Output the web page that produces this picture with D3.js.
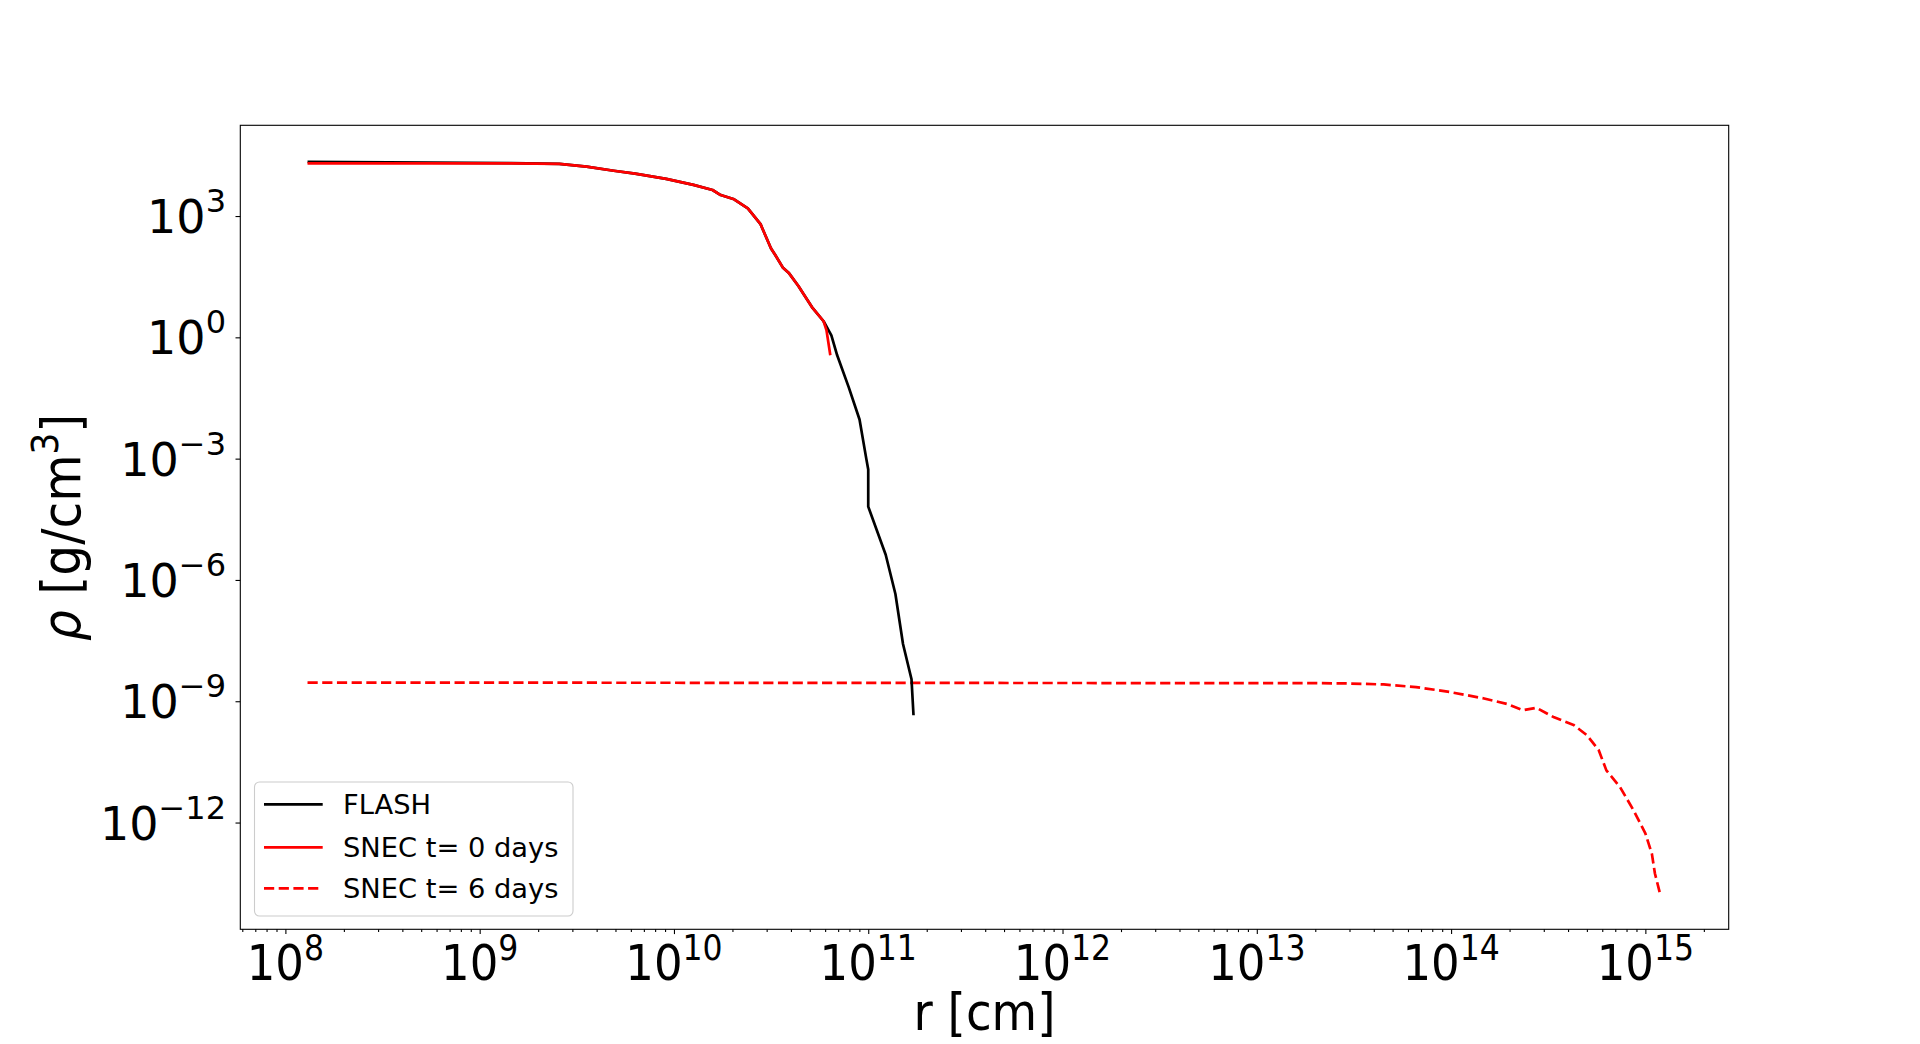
<!DOCTYPE html>
<html><head><meta charset="utf-8">
<script src="https://cdn.jsdelivr.net/npm/d3@7"></script>
<style>body{margin:0;background:#fff} svg{display:block}</style>
</head><body>
<svg id="c" width="1920" height="1044"></svg>
<script>
// ---- data ----
const rFlash   = [1.30e8, 1.45e9, 2.57e9, 3.55e9, 4.90e9, 6.31e9, 9.12e9, 1.26e10, 1.58e10, 1.74e10, 2.04e10, 2.40e10, 2.79e10, 3.16e10, 3.31e10, 3.63e10, 3.89e10, 4.37e10, 4.68e10, 5.13e10, 5.89e10, 6.46e10, 6.92e10, 7.94e10, 9.02e10, 9.77e10, 1.00e11, 1.00e11, 1.23e11, 1.38e11, 1.51e11, 1.67e11, 1.71e11];
const rhoFlash = [2.19e4, 2.04e4, 1.95e4, 1.66e4, 1.32e4, 1.12e4, 8.3e3, 5.9e3, 4.4e3, 3.3e3, 2.6e3, 1.55e3, 6.3e2, 1.58e2, 1.12e2, 53.7, 39.8, 18.6, 11.2, 5.6, 2.5, 1.12, 0.36, 0.058, 9.3e-3, 1.0e-3, 5.4e-4, 6.5e-5, 4.2e-6, 4.5e-7, 2.6e-8, 3.5e-9, 4.5e-10];
const rSnec0   = [1.30e8, 1.45e9, 2.57e9, 3.55e9, 4.90e9, 6.31e9, 9.12e9, 1.26e10, 1.58e10, 1.74e10, 2.04e10, 2.40e10, 2.79e10, 3.16e10, 3.31e10, 3.63e10, 3.89e10, 4.37e10, 4.68e10, 5.13e10, 5.89e10, 6.10e10, 6.38e10];
const rhoSnec0 = [2.0e4, 2.0e4, 1.95e4, 1.66e4, 1.32e4, 1.12e4, 8.3e3, 5.9e3, 4.4e3, 3.3e3, 2.6e3, 1.55e3, 6.3e2, 1.58e2, 1.12e2, 53.7, 39.8, 18.6, 11.2, 5.6, 2.5, 1.48, 0.36];
const rSnec6   = [1.30e8, 2.0e13, 3.0e13, 4.5e13, 6.6e13, 9.8e13, 1.48e14, 1.95e14, 2.35e14, 2.75e14, 3.39e14, 4.27e14, 5.0e14, 5.75e14, 6.3e14, 7.4e14, 8.7e14, 1.0e15, 1.08e15, 1.12e15, 1.19e15];
const rhoSnec6 = [2.9e-9, 2.8e-9, 2.75e-9, 2.6e-9, 2.24e-9, 1.7e-9, 1.17e-9, 8.5e-10, 6.0e-10, 6.9e-10, 4.0e-10, 2.6e-10, 1.45e-10, 6.2e-11, 1.95e-11, 7.6e-12, 2.0e-12, 5.4e-13, 1.7e-13, 5.5e-14, 1.74e-14];
const seriesLabels = ["FLASH", "SNEC t= 0 days", "SNEC t= 6 days"];
const xTickExps = [8, 9, 10, 11, 12, 13, 14, 15];
const yTickExps = [3, 0, -3, -6, -9, -12];
const xDomain = [5.86e7, 2.685e15];
const yDomain = [2.29e-15, 1.754e5];
const xLabel = "r [cm]";

// ---- layout ----
const L = 240.3, R = 1728.7, T = 125.3, B = 929.3;
const svg = d3.select("#c");
const x = d3.scaleLog().domain(xDomain).range([L, R]);
const y = d3.scaleLog().domain(yDomain).range([B, T]);
const condensed = "'DejaVu Sans Condensed','Liberation Sans Narrow','DejaVu Sans'";

// minor x ticks
const minors = [];
for (let e = 7; e <= 15; e++) for (let m = 2; m <= 9; m++) {
  const v = m * Math.pow(10, e);
  if (v >= xDomain[0] && v <= xDomain[1]) minors.push(v);
}
const gxm = svg.append("g").attr("transform", `translate(0,${B})`)
  .call(d3.axisBottom(x).tickValues(minors).tickSize(2.8).tickFormat(""));
const gx = svg.append("g").attr("transform", `translate(0,${B})`)
  .call(d3.axisBottom(x).tickValues(xTickExps.map(e => Math.pow(10, e))).tickSize(4.8).tickFormat(""));
const gy = svg.append("g").attr("transform", `translate(${L},0)`)
  .call(d3.axisLeft(y).tickValues(yTickExps.map(e => Math.pow(10, e))).tickSize(4.8).tickFormat(""));
[gxm, gx, gy].forEach(g => {
  g.select(".domain").remove();
  g.selectAll("line").attr("stroke", "#000").attr("stroke-width", 1.1);
});

// x tick labels
xTickExps.forEach(e => {
  const t = svg.append("text").attr("x", x(Math.pow(10, e))).attr("y", 980)
    .attr("text-anchor", "middle").attr("font-family", condensed).attr("font-size", 50).attr("fill", "#000");
  t.append("tspan").text("10");
  t.append("tspan").attr("dy", -20).attr("font-size", 35).text(String(e));
});
// y tick labels
yTickExps.forEach(e => {
  const t = svg.append("text").attr("x", 226).attr("y", y(Math.pow(10, e)) + 17)
    .attr("text-anchor", "end").attr("font-family", "'DejaVu Sans'").attr("font-size", 46).attr("fill", "#000");
  t.append("tspan").text("10");
  t.append("tspan").attr("dy", -21).attr("font-size", 32).text(e < 0 ? "\u2212" + Math.abs(e) : String(e));
});

// axis labels
svg.append("text").attr("x", (L + R) / 2).attr("y", 1030).attr("text-anchor", "middle")
  .attr("font-family", condensed).attr("font-size", 52).attr("fill", "#000").text(xLabel);
const yl = svg.append("text").attr("transform", `translate(80,${(T + B) / 2}) rotate(-90)`)
  .attr("text-anchor", "middle").attr("font-family", condensed).attr("font-size", 54).attr("fill", "#000");
yl.append("tspan").attr("font-style", "italic").text("\u03C1");
yl.append("tspan").text(" [g/cm");
yl.append("tspan").attr("dy", -22).attr("font-size", 38).text("3");
yl.append("tspan").attr("dy", 22).text("]");

// lines
const line = d3.line().x(d => x(d[0])).y(d => y(d[1]));
svg.append("clipPath").attr("id", "pc").append("rect").attr("x", L).attr("y", T).attr("width", R - L).attr("height", B - T);
const series = [
  {r: rSnec6, rho: rhoSnec6, color: "#ff0000", dash: "10.2,4.5"},
  {r: rFlash, rho: rhoFlash, color: "#000000", dash: null},
  {r: rSnec0, rho: rhoSnec0, color: "#ff0000", dash: null}
];
const lg = svg.append("g").attr("clip-path", "url(#pc)");
series.forEach(s => {
  lg.append("path").datum(d3.zip(s.r, s.rho)).attr("d", line)
    .attr("fill", "none").attr("stroke", s.color).attr("stroke-width", 2.7)
    .attr("stroke-linejoin", "round").attr("stroke-dasharray", s.dash);
});

// frame
svg.append("rect").attr("x", L).attr("y", T).attr("width", R - L).attr("height", B - T)
  .attr("fill", "none").attr("stroke", "#000").attr("stroke-width", 1.1);

// legend
const leg = svg.append("g");
leg.append("rect").attr("x", 254.5).attr("y", 782).attr("width", 318.5).attr("height", 134).attr("rx", 5)
  .attr("fill", "#fff").attr("fill-opacity", 0.8).attr("stroke", "#cccccc").attr("stroke-width", 1.1);
const legStyles = [{color: "#000", dash: null}, {color: "#ff0000", dash: null}, {color: "#ff0000", dash: "10.2,4.5"}];
const legY = [804.3, 847.3, 888.3];
seriesLabels.forEach((lab, i) => {
  leg.append("line").attr("x1", 264).attr("x2", 322.7).attr("y1", legY[i]).attr("y2", legY[i])
    .attr("stroke", legStyles[i].color).attr("stroke-width", 2.7).attr("stroke-dasharray", legStyles[i].dash);
  leg.append("text").attr("x", 343).attr("y", legY[i] + 10).attr("font-family", "'DejaVu Sans'")
    .attr("font-size", 27.3).attr("fill", "#000").text(lab);
});
</script>
</body></html>
